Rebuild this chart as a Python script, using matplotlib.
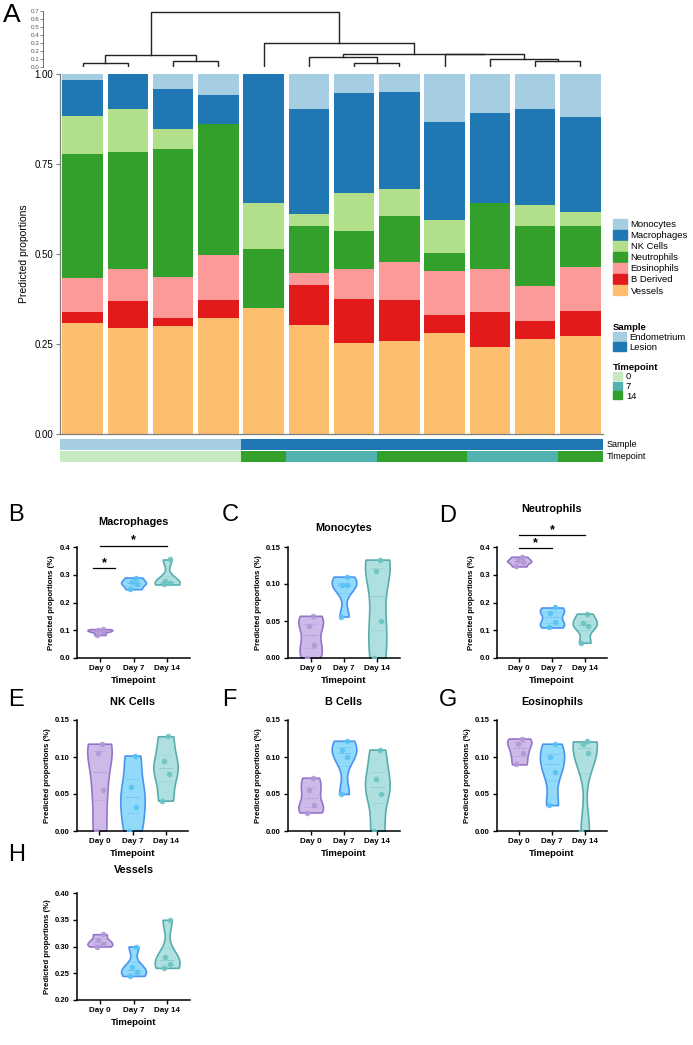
import matplotlib
matplotlib.use('Agg')
import matplotlib.pyplot as plt
from matplotlib.patches import Patch
import numpy as np

plt.rcParams['font.family'] = ['Liberation Sans', 'DejaVu Sans']

W, H = 693, 1045

# ---- panel A data (bottom -> top of each stacked bar) ----
cell_types = ['Vessels', 'B Derived', 'Eosinophils', 'Neutrophils', 'NK Cells', 'Macrophages', 'Monocytes']
cell_colors = ['#fdbf6f', '#e31a1c', '#fb9a99', '#33a02c', '#b2df8a', '#1f78b4', '#a6cee3']
vessels = [0.307, 0.295, 0.300, 0.323, 0.351, 0.303, 0.252, 0.258, 0.280, 0.241, 0.263, 0.272]
b_derived = [0.031, 0.074, 0.023, 0.049, 0.000, 0.111, 0.124, 0.114, 0.050, 0.099, 0.051, 0.071]
eosinophils = [0.094, 0.088, 0.114, 0.125, 0.000, 0.034, 0.081, 0.106, 0.122, 0.118, 0.098, 0.120]
neutrophils = [0.346, 0.327, 0.356, 0.364, 0.162, 0.131, 0.108, 0.127, 0.050, 0.183, 0.165, 0.115]
nk_cells = [0.106, 0.119, 0.055, 0.000, 0.128, 0.032, 0.104, 0.076, 0.093, 0.000, 0.059, 0.040]
macrophages = [0.099, 0.097, 0.109, 0.082, 0.359, 0.291, 0.277, 0.269, 0.272, 0.250, 0.266, 0.263]
monocytes = [0.017, 0.000, 0.043, 0.057, 0.000, 0.098, 0.056, 0.050, 0.133, 0.109, 0.098, 0.119]
stack = [vessels, b_derived, eosinophils, neutrophils, nk_cells, macrophages, monocytes]

sample = ['Endometrium'] * 4 + ['Lesion'] * 8
sample_colors = {'Endometrium': '#a6cee3', 'Lesion': '#1f78b4'}
timepoint = [0, 0, 0, 0, 14, 7, 7, 14, 14, 7, 7, 14]
time_colors = {0: '#c7e9c0', 7: '#52b2b0', 14: '#33a02c'}

# dendrogram merges: (child a, child b, height); new nodes get ids 12, 13, ...
merges = [(0, 1, 0.050), (2, 3, 0.072), (12, 13, 0.156), (6, 7, 0.055),
          (5, 15, 0.126), (10, 11, 0.072), (9, 17, 0.097), (8, 18, 0.165),
          (16, 19, 0.168), (4, 20, 0.300), (14, 21, 0.690)]

# ---- violin panel data ----
days = ['Day 0', 'Day 7', 'Day 14']
v_fill = ['#c9b2e6', '#86d6fa', '#a6dddd']
v_edge = ['#8a6cc2', '#3b8cf0', '#4ca6a6']
v_dot = ['#b397d9', '#55c3f4', '#69c3c3']

mac_pts = [[0.083, 0.095, 0.100, 0.104], [0.248, 0.265, 0.275, 0.290], [0.265, 0.270, 0.278, 0.355]]
mono_pts = [[0.000, 0.018, 0.043, 0.057], [0.056, 0.098, 0.099, 0.110], [0.000, 0.050, 0.118, 0.133]]
neut_pts = [[0.330, 0.345, 0.352, 0.365], [0.110, 0.130, 0.162, 0.182], [0.055, 0.115, 0.125, 0.160]]
nk_pts = [[0.000, 0.055, 0.105, 0.118], [0.000, 0.033, 0.060, 0.102], [0.041, 0.077, 0.094, 0.128]]
bcell_pts = [[0.025, 0.035, 0.055, 0.072], [0.050, 0.100, 0.110, 0.122], [0.000, 0.050, 0.070, 0.110]]
eos_pts = [[0.090, 0.105, 0.118, 0.125], [0.035, 0.080, 0.100, 0.118], [0.000, 0.105, 0.118, 0.121]]
vess_pts = [[0.300, 0.305, 0.312, 0.323], [0.245, 0.252, 0.262, 0.300], [0.260, 0.268, 0.280, 0.350]]


def px_axes(fig, left, top, right, bottom):
    return fig.add_axes([left / W, 1 - bottom / H, (right - left) / W, (bottom - top) / H])


fig = plt.figure(figsize=(W / 100, H / 100), dpi=100)

# ---------- Panel A: stacked bars ----------
ax = px_axes(fig, 60, 74, 603, 434)
x = np.arange(len(vessels))
bottom = np.zeros(len(x))
for vals, col, name in zip(stack, cell_colors, cell_types):
    ax.bar(x, vals, bottom=bottom, width=0.9, color=col, label=name, linewidth=0)
    bottom += np.array(vals)
ax.set_xlim(-0.5, len(x) - 0.5)
ax.set_ylim(0, 1)
ax.set_yticks([0, 0.25, 0.5, 0.75, 1.0])
ax.set_yticklabels(['0.00', '0.25', '0.50', '0.75', '1.00'])
ax.tick_params(axis='y', labelsize=7, length=3, color='#7f7f7f', width=0.8, pad=2)
ax.set_xticks([])
ax.set_ylabel('Predicted proportions', fontsize=7.5, labelpad=4)
for s in ['top', 'right']:
    ax.spines[s].set_visible(False)
for s in ['left', 'bottom']:
    ax.spines[s].set_color('#7f7f7f')
    ax.spines[s].set_linewidth(0.9)
fig.text(3 / W, 1 - 15 / H, 'A', fontsize=19, va='center')

# dendrogram
axd = px_axes(fig, 60, 11, 603, 67)
pos = {i: float(i) for i in range(len(vessels))}
hgt = {i: 0.0 for i in range(len(vessels))}
for k, (a, b, h) in enumerate(merges):
    nid = len(vessels) + k
    axd.plot([pos[a], pos[a], pos[b], pos[b]], [hgt[a], h, h, hgt[b]], color='#222222', lw=1.0)
    pos[nid] = (pos[a] + pos[b]) / 2
    hgt[nid] = h
axd.set_xlim(-0.5, len(x) - 0.5)
axd.set_ylim(0, 0.7)
dticks = np.round(np.arange(0, 0.71, 0.1), 1)
axd.set_yticks(dticks)
axd.set_yticklabels(['%.1f' % t for t in dticks])
axd.tick_params(axis='y', labelsize=4.5, labelcolor='#555555', length=2, width=0.5,
                color='#555555', pad=1)
axd.set_xticks([])
for s in ['top', 'right', 'bottom']:
    axd.spines[s].set_visible(False)
axd.spines['left'].set_position(('outward', 12))
axd.spines['left'].set_color('#555555')
axd.spines['left'].set_linewidth(0.6)

# annotation strips
axs = px_axes(fig, 60, 439, 603, 462)
for i in x:
    axs.bar(i, 0.92, bottom=1.04, width=1.0, color=sample_colors[sample[i]], linewidth=0)
    axs.bar(i, 0.92, bottom=0.04, width=1.0, color=time_colors[timepoint[i]], linewidth=0)
axs.set_xlim(-0.5, len(x) - 0.5)
axs.set_ylim(0, 2)
axs.axis('off')
axs.text(len(x) - 0.42, 1.5, 'Sample', fontsize=6.5, va='center')
axs.text(len(x) - 0.42, 0.5, 'Timepoint', fontsize=6.5, va='center')

# legends
h_cells = [Patch(color=c, label=n) for n, c in zip(cell_types, cell_colors)][::-1]
fig.legend(handles=h_cells, loc='upper left', bbox_to_anchor=(608 / W, 1 - 214 / H),
           frameon=False, fontsize=6.8, handlelength=1.5, handleheight=1.25,
           labelspacing=0.1, handletextpad=0.4, borderpad=0)
h_samp = [Patch(color=sample_colors[k], label=k) for k in ['Endometrium', 'Lesion']]
fig.legend(handles=h_samp, loc='upper left', bbox_to_anchor=(608 / W, 1 - 318 / H),
           frameon=False, fontsize=6.8, handlelength=1.4, handleheight=1.0,
           labelspacing=0.05, handletextpad=0.4, borderpad=0, title='Sample',
           title_fontproperties={'weight': 'bold', 'size': 6.8}, alignment='left')
h_time = [Patch(color=time_colors[k], label=str(k)) for k in [0, 7, 14]]
fig.legend(handles=h_time, loc='upper left', bbox_to_anchor=(608 / W, 1 - 358 / H),
           frameon=False, fontsize=6.8, handlelength=1.0, handleheight=0.9,
           labelspacing=0.05, handletextpad=0.4, borderpad=0, title='Timepoint',
           title_fontproperties={'weight': 'bold', 'size': 6.8}, alignment='left')


# ---------- violin panels ----------
def violin_panel(box, pts, title, title_y, ymax, ystep, fmt, ymin=0.0):
    axv = px_axes(fig, *box)
    parts = axv.violinplot(pts, positions=range(3), widths=0.74, showextrema=False,
                           bw_method=0.5)
    for body, fc, ec in zip(parts['bodies'], v_fill, v_edge):
        body.set_facecolor(fc)
        body.set_edgecolor(ec)
        body.set_alpha(0.9)
        body.set_linewidth(1.2)
    for i, p in enumerate(pts):
        q1, med, q3 = np.percentile(p, [25, 50, 75])
        for q, ls in [(q1, ':'), (med, '--'), (q3, ':')]:
            axv.plot([i - 0.2, i + 0.2], [q, q], color=v_edge[i], lw=0.5, ls=ls, alpha=0.6)
        jit = np.array([-0.1, 0.1, -0.05, 0.08])[:len(p)]
        axv.scatter(i + jit, p, s=16, color=v_dot[i], alpha=0.9, linewidths=0, zorder=3)
    axv.set_xlim(-0.68, 2.68)
    axv.set_ylim(ymin, ymax)
    ticks = np.arange(ymin, ymax + 1e-9, ystep)
    axv.set_yticks(ticks)
    axv.set_yticklabels([fmt % t for t in ticks], fontsize=5.5, fontweight='bold')
    axv.set_xticks(range(3))
    axv.set_xticklabels(days, fontsize=5.8, fontweight='bold')
    axv.set_xlabel('Timepoint', fontsize=6.8, fontweight='bold', labelpad=3)
    axv.set_ylabel('Predicted proportions (%)', fontsize=5.6, fontweight='bold', labelpad=3)
    ty = (box[3] - title_y) / (box[3] - box[1])
    axv.text(0.5, ty, title, transform=axv.transAxes, ha='center', va='center',
             fontsize=7.8, fontweight='bold')
    for s in ['top', 'right']:
        axv.spines[s].set_visible(False)
    for s in ['left', 'bottom']:
        axv.spines[s].set_linewidth(1.1)
    axv.tick_params(length=3, width=1.0, pad=2)
    return axv


def sig(axv, x0, x1, y, dy):
    axv.plot([x0, x1], [y, y], color='black', lw=0.9, clip_on=False)
    axv.text((x0 + x1) / 2, y + dy, '*', ha='center', va='center', fontsize=9, fontweight='bold')


axB = violin_panel((77, 547, 190, 658), mac_pts, 'Macrophages', 522, 0.4, 0.1, '%.1f')
sig(axB, -0.2, 0.45, 0.325, 0.018)
sig(axB, 0.0, 2.0, 0.405, 0.018)
axC = violin_panel((288, 547, 400, 658), mono_pts, 'Monocytes', 528, 0.15, 0.05, '%.2f')
axD = violin_panel((497, 547, 607, 658), neut_pts, 'Neutrophils', 509, 0.4, 0.1, '%.1f')
sig(axD, 0.0, 1.0, 0.397, 0.018)
sig(axD, 0.0, 2.0, 0.444, 0.018)
axE = violin_panel((77, 720, 188, 831), nk_pts, 'NK Cells', 702, 0.15, 0.05, '%.2f')
axF = violin_panel((288, 720, 400, 831), bcell_pts, 'B Cells', 702, 0.15, 0.05, '%.2f')
axG = violin_panel((497, 720, 607, 831), eos_pts, 'Eosinophils', 702, 0.15, 0.05, '%.2f')
axH = violin_panel((77, 893, 190, 1000), vess_pts, 'Vessels', 870, 0.40, 0.05, '%.2f', ymin=0.20)

for lbl, (lx, ly) in {'B': (8, 515), 'C': (222, 515), 'D': (439, 516), 'E': (8, 700),
                      'F': (222, 700), 'G': (439, 700), 'H': (8, 855)}.items():
    fig.text(lx / W, 1 - ly / H, lbl, fontsize=17, va='center')

fig.savefig('out.png', dpi=100)
